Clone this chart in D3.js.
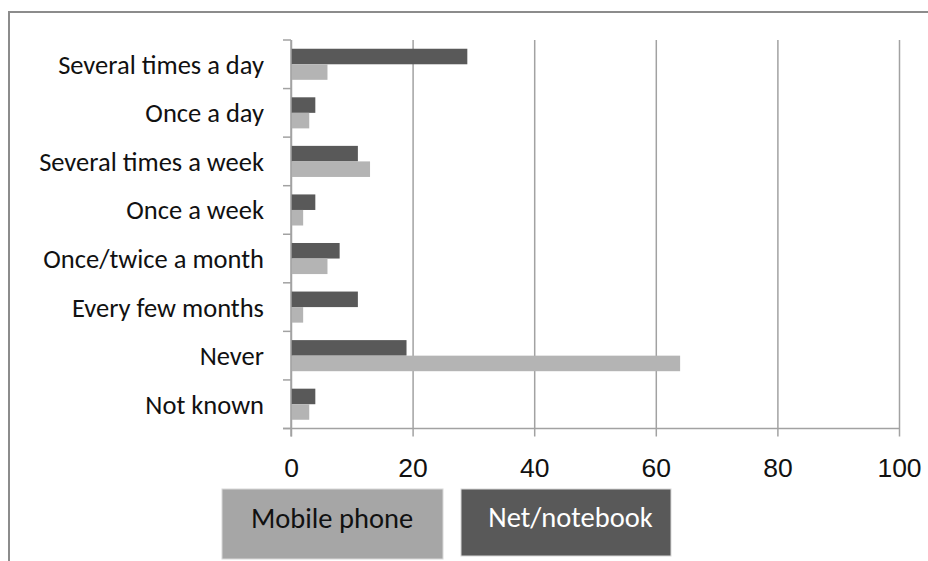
<!DOCTYPE html>
<html>
<head>
<meta charset="utf-8">
<script src="https://cdn.jsdelivr.net/npm/d3@7/dist/d3.min.js"></script>
<style>
  html, body { margin: 0; padding: 0; background: #fff; }
  svg { display: block; font-family: Carlito, Calibri, "Open Sans", sans-serif; }
</style>
</head>
<body>
<svg id="chart" width="928" height="561"></svg>
<script>
// Frequency of use, by device
const categories = [
  "Several times a day",
  "Once a day",
  "Several times a week",
  "Once a week",
  "Once/twice a month",
  "Every few months",
  "Never",
  "Not known"
];
const netNotebook = [29, 4, 11, 4, 8, 11, 19, 4];
const mobilePhone = [6, 3, 13, 2, 6, 2, 64, 3];
const seriesNames = ["Net/notebook", "Mobile phone"];
const xTicks = [0, 20, 40, 60, 80, 100];

const colors = { "Net/notebook": "#595959", "Mobile phone": "#b4b4b4" };
const gridColor = "#a2a2a2";

const svg = d3.select("#chart");

// outer frame (top and left edges visible)
svg.append("path")
  .attr("d", "M9,561 L9,12 L928,12")
  .attr("fill", "none")
  .attr("stroke", "#8c8c8c")
  .attr("stroke-width", 2);

const plotLeft = 291, plotRight = 899, plotTop = 40, plotBottom = 428.5;

const x = d3.scaleLinear().domain([0, 100]).range([plotLeft, plotRight]);
const y = d3.scaleBand().domain(categories).range([plotTop, plotBottom]).paddingInner(0.36).paddingOuter(0.18);
const ySub = d3.scaleBand().domain(seriesNames).range([0, y.bandwidth()]);

// vertical gridlines with ticks below the axis
const xAxis = d3.axisBottom(x).tickValues(xTicks).tickSize(-(plotBottom - plotTop)).tickFormat(d3.format("d")).tickPadding(0);
const gx = svg.append("g").attr("transform", `translate(0,${plotBottom})`).call(xAxis);
gx.select(".domain").remove();
gx.selectAll(".tick line")
  .attr("y1", 8)
  .attr("stroke", gridColor)
  .attr("stroke-width", 1.5);
gx.selectAll(".tick text")
  .attr("y", 48.5)
  .attr("dy", null)
  .attr("fill", "#111")
  .attr("font-size", 26.5);

// horizontal category axis line
svg.append("line")
  .attr("x1", plotLeft - 8).attr("x2", plotRight)
  .attr("y1", plotBottom).attr("y2", plotBottom)
  .attr("stroke", gridColor).attr("stroke-width", 1.5);

// bars
const rows = svg.append("g").selectAll("g")
  .data(categories.map((c, i) => ({ cat: c, vals: [netNotebook[i], mobilePhone[i]] })))
  .join("g")
  .attr("transform", d => `translate(0,${y(d.cat)})`);

rows.selectAll("rect")
  .data(d => d.vals.map((v, j) => ({ name: seriesNames[j], v })))
  .join("rect")
  .attr("x", x(0))
  .attr("y", d => ySub(d.name))
  .attr("width", d => x(d.v) - x(0))
  .attr("height", ySub.bandwidth())
  .attr("fill", d => colors[d.name]);

// category axis on the left with ticks between categories
const boundaries = d3.range(categories.length + 1).map(i => plotTop + i * (plotBottom - plotTop) / categories.length);
svg.append("g").selectAll("line")
  .data(boundaries)
  .join("line")
  .attr("x1", plotLeft - 8).attr("x2", plotLeft)
  .attr("y1", d => d).attr("y2", d => d)
  .attr("stroke", gridColor).attr("stroke-width", 1.5);
svg.append("line")
  .attr("x1", plotLeft).attr("x2", plotLeft)
  .attr("y1", plotTop).attr("y2", plotBottom + 8)
  .attr("stroke", gridColor).attr("stroke-width", 1.5);

svg.append("g").selectAll("text")
  .data(categories)
  .join("text")
  .attr("x", 264)
  .attr("y", d => y(d) + y.bandwidth() / 2 + 9.5)
  .attr("text-anchor", "end")
  .attr("fill", "#111")
  .attr("font-size", 26.5)
  .text(d => d);

// legend boxes
const legend = [
  { name: "Mobile phone", x0: 222, x1: 443, y0: 489, y1: 559, text: "#111", base: 528 },
  { name: "Net/notebook", x0: 461, x1: 671, y0: 489, y1: 556, text: "#fff", base: 526.5 }
];
const lg = svg.append("g").selectAll("g").data(legend).join("g");
lg.append("rect")
  .attr("x", d => d.x0).attr("y", d => d.y0)
  .attr("width", d => d.x1 - d.x0).attr("height", d => d.y1 - d.y0)
  .attr("fill", d => d.name === "Mobile phone" ? "#a6a6a6" : colors[d.name])
  .attr("stroke", "#d8d8d8").attr("stroke-width", 1);
lg.append("text")
  .attr("x", d => (d.x0 + d.x1) / 2 + (d.name === "Mobile phone" ? -0.5 : 4.5))
  .attr("y", d => d.base)
  .attr("text-anchor", "middle")
  .attr("fill", d => d.text)
  .attr("font-size", 28.5)
  .text(d => d.name);
</script>
</body>
</html>
